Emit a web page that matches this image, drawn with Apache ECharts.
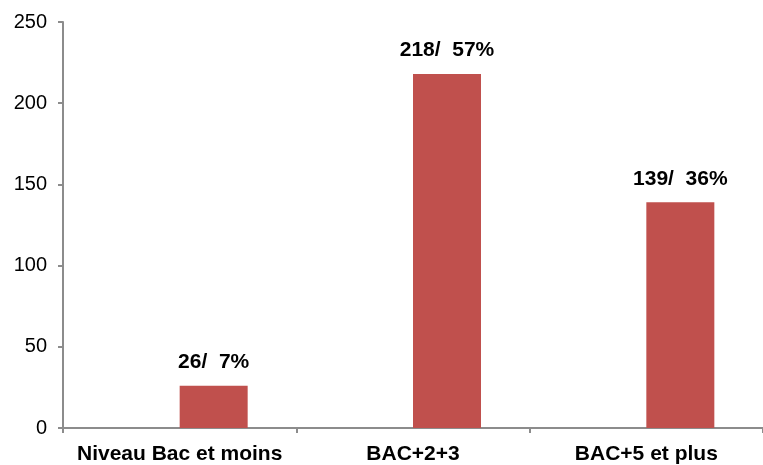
<!DOCTYPE html>
<html>
<head>
<meta charset="utf-8">
<script src="https://cdn.jsdelivr.net/npm/echarts@6/dist/echarts.min.js"></script>
<style>
  html, body { margin: 0; padding: 0; background: #fff; overflow: hidden; }
  #chart { width: 763px; height: 465px; }
</style>
</head>
<body>
<div id="chart"></div>
<script>
// Niveau de diplôme: effectifs et part
const categories = ['Niveau Bac et moins', 'BAC+2+3', 'BAC+5 et plus'];
const counts = [26, 218, 139];
const shares = [7, 57, 36];
const yTicks = { min: 0, max: 250, interval: 50 };

const chart = echarts.init(document.getElementById('chart'), null, { renderer: 'canvas' });
const axisGray = '#8c8c8c';
const font = 'Liberation Sans, Arial, sans-serif';

chart.setOption({
  animation: false,
  // plot area runs slightly past the right edge of the canvas
  grid: { left: 63, right: -5, top: 22, bottom: 37, containLabel: false },
  xAxis: {
    type: 'category',
    data: categories,
    axisLine: { lineStyle: { color: axisGray, width: 2 } },
    axisTick: { show: true, interval: 0, alignWithLabel: false, length: 5, lineStyle: { color: axisGray, width: 2 } },
    axisLabel: { interval: 0, color: '#000', fontFamily: font, fontWeight: 'bold', fontSize: 21, margin: 16 }
  },
  yAxis: {
    type: 'value',
    min: yTicks.min,
    max: yTicks.max,
    interval: yTicks.interval,
    axisLine: { show: true, lineStyle: { color: axisGray, width: 2 } },
    axisTick: { show: true, length: 5, lineStyle: { color: axisGray, width: 2 } },
    splitLine: { show: false },
    axisLabel: { color: '#000', fontFamily: font, fontSize: 20, margin: 16 }
  },
  series: [
    {
      // empty companion slot, keeps the bars offset to the right of each category
      type: 'bar',
      data: categories.map(() => null),
      barWidth: 68,
      barGap: '0%'
    },
    {
      type: 'bar',
      data: counts,
      barWidth: 68,
      barGap: '0%',
      itemStyle: { color: '#c0504d' },
      label: {
        show: true,
        position: 'top',
        distance: 13,
        color: '#000',
        fontFamily: font,
        fontWeight: 'bold',
        fontSize: 21,
        formatter: p => counts[p.dataIndex] + '/  ' + shares[p.dataIndex] + '%'
      }
    }
  ]
});
</script>
</body>
</html>
